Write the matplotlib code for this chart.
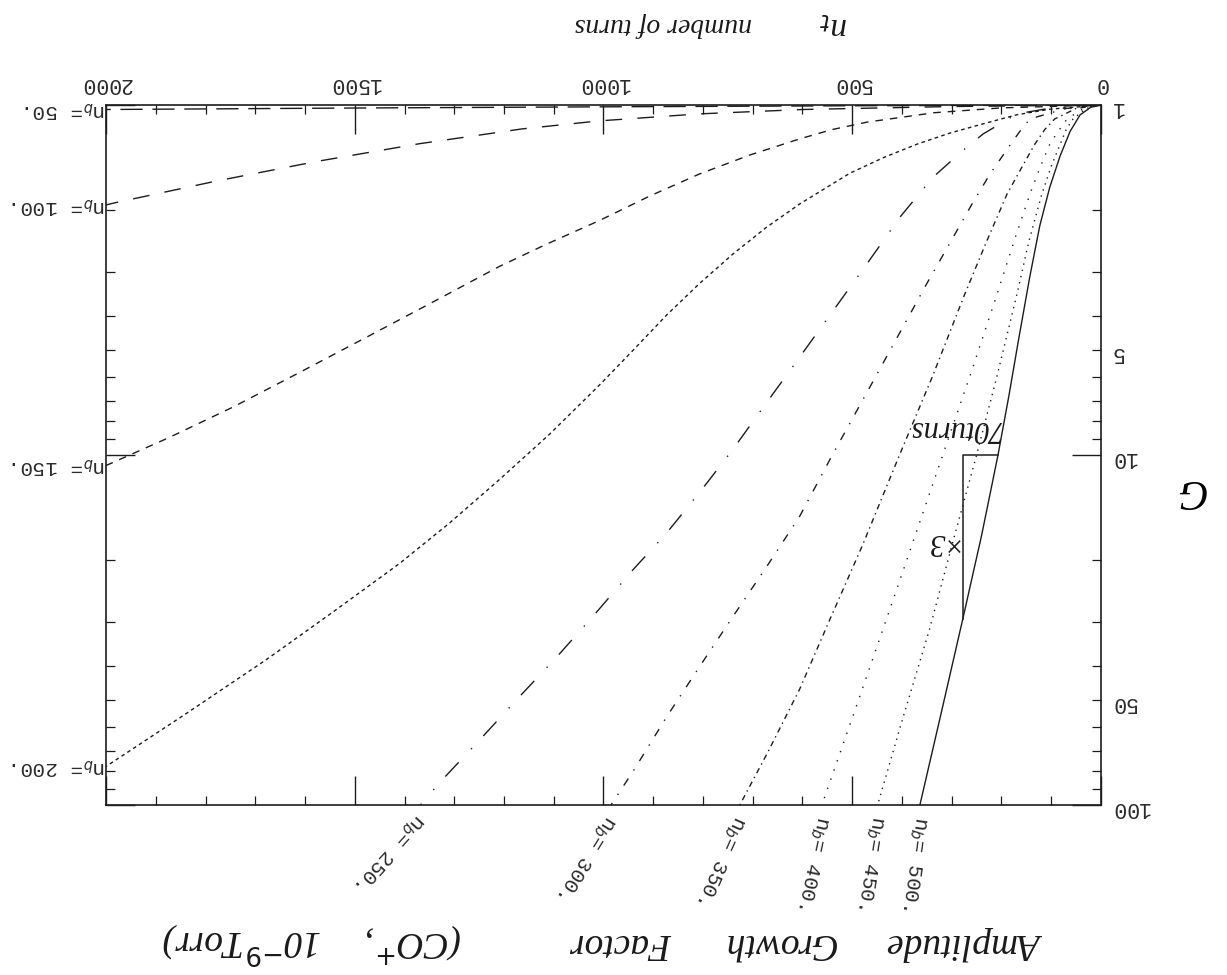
import matplotlib
matplotlib.use("Agg")
import matplotlib.pyplot as plt
import matplotlib.transforms as mtransforms
from matplotlib.ticker import FixedLocator, FuncFormatter

# values (number of turns, amplitude growth factor G)
turns_50 = [0, 500, 1000, 1500, 2000]
gain_50 = [1.0, 1.005, 1.012, 1.02, 1.03]

turns_100 = [0, 300, 600, 807, 1008, 1163, 1370, 1577, 1779, 1980, 2000]
gain_100 = [1.0, 1.01, 1.03, 1.06, 1.11, 1.17, 1.29, 1.45, 1.65, 1.90, 1.93]

turns_150 = [0, 200, 335, 470, 540, 606, 706, 807, 907, 1008, 1115, 1209,
             1343, 1477, 1612, 1746, 1873, 2000]
gain_150 = [1.0, 1.019, 1.052, 1.119, 1.175, 1.25, 1.39, 1.574, 1.82, 2.138, 2.5, 2.891,
            3.656, 4.613, 5.821, 7.311, 8.913, 10.72]

turns_200 = [0, 103, 170, 237, 303, 370, 437, 505, 606, 673, 740, 807, 873, 940,
             1008, 1108, 1209, 1310, 1410, 1545, 1678, 1840, 2000]
gain_200 = [1.0, 1.028, 1.067, 1.132, 1.202, 1.294, 1.413, 1.567, 1.919, 2.239, 2.667,
            3.236, 3.981, 5.012, 6.31, 8.71, 11.75, 15.67, 20.42, 28.18, 38.46, 54.95, 77.62]

turns_250 = [0, 100, 169, 237, 278, 338, 404, 471, 539, 606, 672, 740, 807,
             873, 941, 1022, 1095, 1175, 1249, 1330, 1368]
gain_250 = [1.0, 1.02, 1.06, 1.21, 1.35, 1.61, 2.09, 2.85, 3.88, 5.26, 7.08, 9.64, 12.8,
            16.7, 21.3, 29.0, 37.9, 50.1, 65.2, 86.5, 100.0]

turns_300 = [0, 70, 143, 163, 183, 223, 258, 304, 350, 410, 470, 540, 606,
             672, 740, 807, 873, 941, 985]
gain_300 = [1.0, 1.023, 1.096, 1.189, 1.303, 1.574, 1.905, 2.483, 3.236, 4.624, 6.607,
            10.0, 15.0, 20.84, 28.97, 40.27, 55.98, 80.35, 100.0]

turns_350 = [0, 50, 93, 113, 133, 160, 189, 230, 274, 340, 405, 480, 545, 606, 670, 726]
gain_350 = [1.0, 1.023, 1.096, 1.175, 1.294, 1.514, 1.799, 2.455, 3.475, 6.026, 10.0,
            18.2, 29.51, 46.77, 70.79, 100.0]

turns_400 = [0, 35, 68, 86, 103, 123, 143, 175, 209, 260, 318, 400, 480, 561]
gain_400 = [1.0, 1.023, 1.096, 1.189, 1.294, 1.514, 1.799, 2.455, 3.475, 5.754, 10.0,
            21.88, 46.77, 100.0]

turns_450 = [0, 30, 56, 70, 82, 100, 119, 145, 169, 210, 250, 300, 345, 400, 449]
gain_450 = [1.0, 1.023, 1.096, 1.175, 1.294, 1.496, 1.799, 2.455, 3.475, 6.026, 10.0,
            18.2, 31.62, 57.54, 100.0]

turns_500 = [0, 20, 42, 62, 82, 103, 123, 143, 165, 185, 207, 240, 278, 320, 364]
gain_500 = [1.0, 1.014, 1.067, 1.189, 1.396, 1.718, 2.213, 3.09, 4.624, 6.761, 10.0,
            16.98, 29.51, 53.7, 100.0]

x_ticks = [0, 500, 1000, 1500, 2000]
g_major = [1, 10, 100]
g_labelled = [5, 50]

ink = "#1c1c1c"
dash = {
    50: (0, (16, 7)),
    100: (0, (12, 11)),
    150: (0, (5.5, 5)),
    200: (0, (2.6, 2.4)),
    250: (0, (14, 12, 1, 13)),
    300: (0, (6, 7, 1, 7)),
    350: (0, (4, 3, 1, 3)),
    400: (0, (1, 6)),
    450: (0, (1, 3.6)),
    500: "-",
}

curves = {
    50: (turns_50, gain_50), 100: (turns_100, gain_100), 150: (turns_150, gain_150),
    200: (turns_200, gain_200), 250: (turns_250, gain_250), 300: (turns_300, gain_300),
    350: (turns_350, gain_350), 400: (turns_400, gain_400), 450: (turns_450, gain_450),
    500: (turns_500, gain_500),
}

fig = plt.figure(figsize=(12.27, 9.75), dpi=100)
ax = fig.add_axes([0.0864, 0.1744, 0.8109, 0.7179])

for nb, (t, g) in curves.items():
    ax.plot(t, g, color=ink, lw=1.0, linestyle=dash[nb])

ax.set_yscale("log")
# the scan is upside down: 0 turns at right, G = 1 at top
ax.set_xlim(2000, 0)
ax.set_ylim(100, 1)

ax.xaxis.set_major_locator(FixedLocator(x_ticks))
ax.xaxis.set_minor_locator(FixedLocator(range(0, 2001, 100)))
ax.yaxis.set_major_locator(FixedLocator(g_major))
ax.yaxis.set_minor_locator(FixedLocator([2, 3, 4, 5, 6, 7, 8, 9, 20, 30, 40, 50, 60, 70, 80, 90]))
ax.yaxis.set_major_formatter(FuncFormatter(lambda v, p: "%d" % v))
ax.yaxis.set_minor_formatter(FuncFormatter(lambda v, p: "%d" % v if v in g_labelled else ""))
ax.xaxis.set_major_formatter(FuncFormatter(lambda v, p: "%d" % v))

ax.tick_params(which="both", direction="in", top=True, bottom=True, left=True, right=True,
               labeltop=True, labelbottom=False, labelright=True, labelleft=False,
               color=ink, labelcolor="#2a2a2a", labelrotation=180)
ax.tick_params(which="major", length=21, width=1.0)
ax.tick_params(which="minor", length=6.5, width=0.9)
ax.tick_params(axis="x", which="both", pad=8, labelsize=15.5)
ax.tick_params(axis="y", which="both", pad=7, labelsize=15.5)
for lab in ax.get_xticklabels() + ax.get_yticklabels() + ax.get_yticklabels(minor=True):
    lab.set_fontfamily("Liberation Mono")

for s in ax.spines.values():
    s.set_linewidth(1.2)
    s.set_color(ink)

mono = dict(family="Liberation Mono", fontsize=15, color="#2a2a2a",
            rotation_mode="anchor")

# labels at the left edge (curves ending at 2000 turns)
for nb in [50, 100, 150, 200]:
    t, g = curves[nb]
    ax.text(t[-1], g[-1], "n$_{b}$= %d." % nb, rotation=180, ha="left", va="center",
            clip_on=False, **mono)

# labels below the frame (curves reaching G = 100)
angles = {250: 228, 300: 238, 350: 246, 400: 258, 450: 261, 500: 262}
shift = mtransforms.ScaledTranslation(0, -0.11, fig.dpi_scale_trans)
for nb, ang in angles.items():
    t, g = curves[nb]
    ax.text(t[-1], 100, "n$_{b}$= %d." % nb, rotation=ang, ha="left", va="center",
            transform=ax.transData + shift, clip_on=False, **mono)

# 70 turns / x3 triangle on the n_b = 500 curve
ta, ga = turns_500[10], gain_500[10]
tb, gb = turns_500[12], gain_500[12]
ax.plot([ta, tb, tb], [ga, ga, gb], color=ink, lw=1.1)
hand = dict(family="Liberation Serif", style="italic", color="#1a1a1a",
            rotation=180, rotation_mode="anchor", ha="left", va="center")
ax.text(ta - 6, 8.4, "70turns", fontsize=22, **hand)
ax.text(tb + 12, 17.7, "×3", fontsize=22, **hand)

# handwritten axis titles (upside down)
fig.text(1190 / 1227, 1 - 490 / 975, "G", fontsize=30, family="Liberation Serif",
         style="italic", rotation=180, rotation_mode="anchor", ha="center", va="center")
fig.text(848 / 1227, 1 - 25 / 975, "n$_t$", fontsize=24, **hand)
fig.text(752 / 1227, 1 - 25 / 975, "number of turns", fontsize=20, **hand)

title_words = [("Amplitude", 1045), ("Growth", 835), ("Factor", 672),
               ("(CO$^{+}$,", 462), ("10$^{-9}$Torr)", 322)]
for word, xs in title_words:
    fig.text(xs / 1227, 1 - 943 / 975, word, fontsize=27, **hand)

fig.savefig("out.png", dpi=100)
